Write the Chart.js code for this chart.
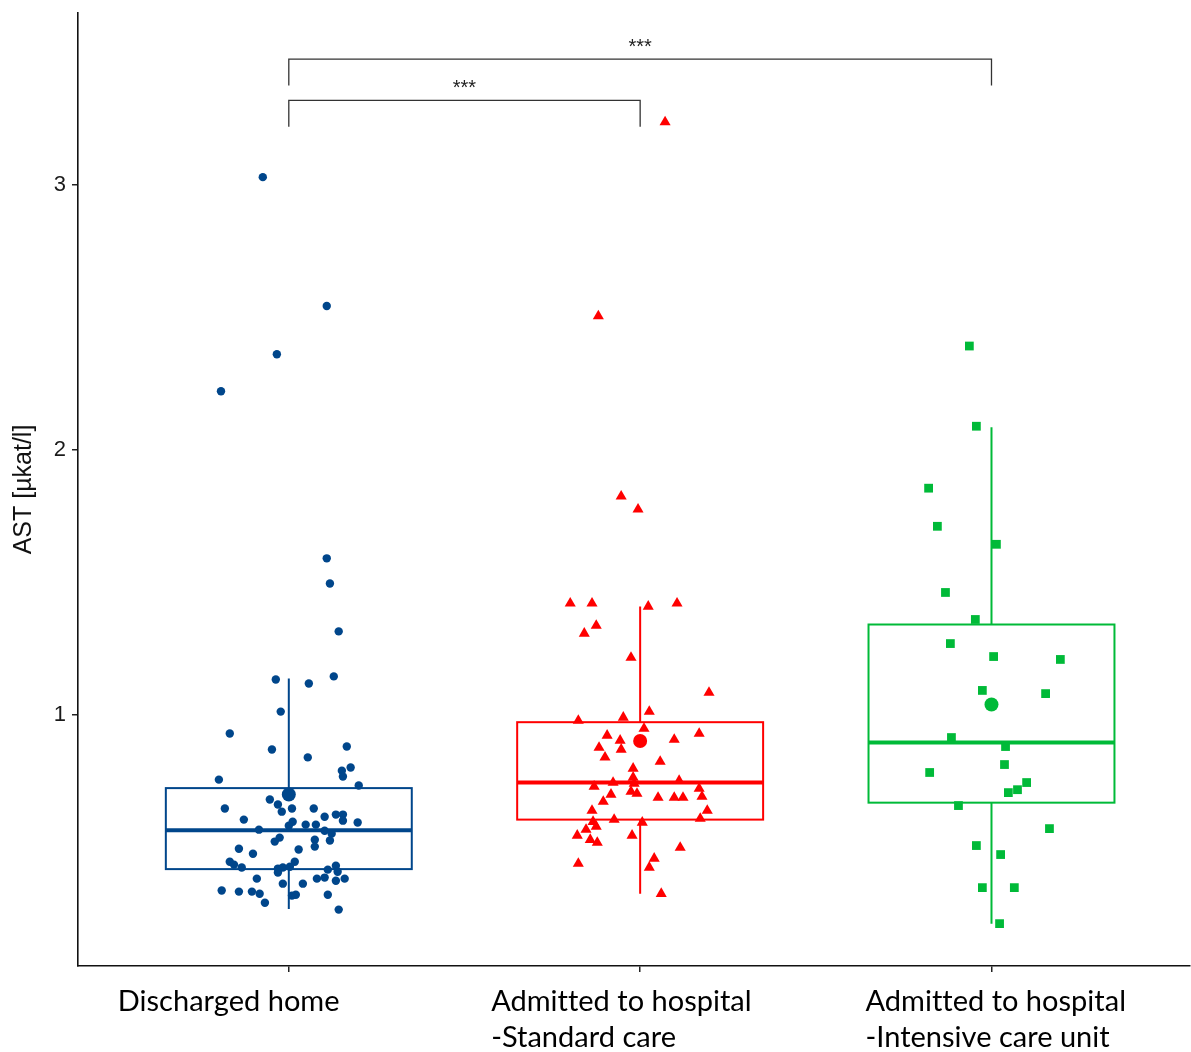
<!DOCTYPE html>
<html>
<head>
<meta charset="utf-8">
<script src="https://cdn.jsdelivr.net/npm/chart.js@4"></script>
<style>
  body { margin: 0; background: #fff; }
</style>
</head>
<body>
<canvas id="astChart" width="1191" height="1052"></canvas>
<script>
let groups = ['Discharged home', 'Admitted to hospital\n-Standard care', 'Admitted to hospital\n-Intensive care unit'];
let yTicks = [1, 2, 3];

// jittered x offsets (category units) and AST values per patient
let homeJitter = [-0.074, 0.108, -0.034, -0.193, 0.108, 0.117, 0.142, -0.037, 0.057, 0.128, -0.023, -0.168, -0.048, 0.054, 0.165, 0.151, 0.176, 0.154, -0.199, 0.199, -0.054, -0.031, -0.020, 0.009, 0.071, -0.182, -0.128, 0.102, 0.134, 0.154, 0.154, 0.196, 0.011, 0.000, 0.048, 0.077, -0.085, 0.102, 0.122, -0.026, -0.040, 0.074, 0.117, 0.074, -0.142, 0.028, -0.102, -0.168, -0.156, -0.134, 0.017, -0.031, -0.017, 0.003, -0.031, 0.111, 0.134, 0.139, -0.091, 0.080, 0.102, 0.134, 0.159, -0.017, 0.040, -0.191, -0.142, -0.105, -0.083, -0.068, 0.009, 0.020, 0.111, 0.142];
let homeAST = [3.030, 2.543, 2.361, 2.221, 1.590, 1.495, 1.314, 1.132, 1.117, 1.144, 1.011, 0.928, 0.868, 0.838, 0.879, 0.788, 0.800, 0.766, 0.754, 0.732, 0.679, 0.660, 0.633, 0.645, 0.645, 0.645, 0.603, 0.614, 0.622, 0.622, 0.599, 0.592, 0.595, 0.580, 0.584, 0.584, 0.565, 0.561, 0.550, 0.535, 0.520, 0.527, 0.524, 0.501, 0.493, 0.490, 0.474, 0.444, 0.433, 0.422, 0.444, 0.418, 0.422, 0.425, 0.403, 0.414, 0.429, 0.406, 0.380, 0.380, 0.384, 0.372, 0.380, 0.361, 0.361, 0.335, 0.331, 0.331, 0.323, 0.289, 0.316, 0.319, 0.319, 0.263];

let standardJitter = [0.071, -0.119, -0.054, -0.006, -0.199, -0.137, 0.023, 0.105, -0.125, -0.159, -0.026, 0.196, 0.026, -0.176, -0.048, 0.011, -0.094, -0.057, 0.168, 0.097, -0.117, -0.054, -0.100, 0.057, -0.020, -0.020, -0.077, -0.131, 0.111, -0.017, -0.009, -0.026, -0.083, 0.051, 0.097, 0.122, 0.168, 0.176, -0.105, -0.137, 0.191, 0.171, -0.074, -0.134, -0.125, 0.006, -0.154, -0.179, -0.142, -0.122, -0.023, 0.114, 0.040, 0.026, -0.176, 0.060];
let standardAST = [3.238, 2.505, 1.824, 1.775, 1.420, 1.420, 1.408, 1.420, 1.336, 1.306, 1.215, 1.083, 1.011, 0.977, 0.989, 0.947, 0.921, 0.902, 0.928, 0.905, 0.875, 0.868, 0.838, 0.822, 0.796, 0.762, 0.743, 0.728, 0.750, 0.739, 0.701, 0.709, 0.698, 0.686, 0.686, 0.686, 0.720, 0.690, 0.671, 0.637, 0.637, 0.607, 0.603, 0.595, 0.577, 0.592, 0.565, 0.543, 0.527, 0.516, 0.543, 0.497, 0.456, 0.422, 0.437, 0.323];

let icuJitter = [-0.063, -0.043, -0.179, -0.154, 0.014, -0.131, -0.046, -0.117, 0.006, 0.196, -0.026, 0.154, -0.114, 0.040, 0.037, -0.176, 0.100, 0.074, 0.048, -0.094, 0.165, -0.043, 0.026, -0.026, 0.065, 0.023];
let icuAST = [2.392, 2.089, 1.855, 1.711, 1.643, 1.461, 1.359, 1.268, 1.219, 1.208, 1.091, 1.079, 0.913, 0.879, 0.811, 0.781, 0.743, 0.716, 0.705, 0.656, 0.569, 0.505, 0.471, 0.346, 0.346, 0.210];

// box plot summaries
let whiskerLow = [0.265, 0.323, 0.210];
let q1 = [0.416, 0.603, 0.667];
let median = [0.563, 0.743, 0.894];
let q3 = [0.722, 0.971, 1.340];
let whiskerHigh = [1.136, 1.408, 2.085];
let means = [0.698, 0.900, 1.038];

let comparisons = [
  { from: 1, to: 2, y: 3.32, label: '***' },
  { from: 1, to: 3, y: 3.476, label: '***' },
];

let colors = ['#00468B', '#FF0000', '#00BA38'];
let pointStyles = ['circle', 'triangle', 'rect'];
let pointRadius = [4.2, 6.4, 6.2];
let labelShift = [-171, -149, -126];

let toPoints = (group, jitter, values) =>
  values.map((v, i) => ({ x: group + jitter[i], y: v }));

let boxPlugin = {
  id: 'boxes',
  beforeDatasetsDraw: (chart) => {
    let ctx = chart.ctx;
    let xs = chart.scales.x;
    let ys = chart.scales.y;
    let half = 0.35;
    ctx.save();
    groups.forEach((g, i) => {
      let c = i + 1;
      let left = xs.getPixelForValue(c - half);
      let right = xs.getPixelForValue(c + half);
      let mid = xs.getPixelForValue(c);
      ctx.strokeStyle = colors[i];
      ctx.lineWidth = 2;
      ctx.beginPath();
      ctx.moveTo(mid, ys.getPixelForValue(q3[i]));
      ctx.lineTo(mid, ys.getPixelForValue(whiskerHigh[i]));
      ctx.moveTo(mid, ys.getPixelForValue(q1[i]));
      ctx.lineTo(mid, ys.getPixelForValue(whiskerLow[i]));
      ctx.stroke();
      let top = ys.getPixelForValue(q3[i]);
      let bottom = ys.getPixelForValue(q1[i]);
      ctx.strokeRect(left, top, right - left, bottom - top);
      ctx.lineWidth = 4;
      ctx.beginPath();
      ctx.moveTo(left, ys.getPixelForValue(median[i]));
      ctx.lineTo(right, ys.getPixelForValue(median[i]));
      ctx.stroke();
    });
    ctx.restore();
  },
  afterDatasetsDraw: (chart) => {
    let ctx = chart.ctx;
    let xs = chart.scales.x;
    let ys = chart.scales.y;
    ctx.save();
    ctx.strokeStyle = '#333';
    ctx.lineWidth = 1.3;
    ctx.fillStyle = '#222';
    ctx.font = '20px "Liberation Sans", Arial, sans-serif';
    ctx.textAlign = 'center';
    ctx.textBaseline = 'alphabetic';
    comparisons.forEach((cmp) => {
      let x1 = xs.getPixelForValue(cmp.from);
      let x2 = xs.getPixelForValue(cmp.to);
      let y = ys.getPixelForValue(cmp.y);
      let drop = ys.getPixelForValue(cmp.y - 0.1);
      ctx.beginPath();
      ctx.moveTo(x1, drop);
      ctx.lineTo(x1, y);
      ctx.lineTo(x2, y);
      ctx.lineTo(x2, drop);
      ctx.stroke();
      ctx.fillText(cmp.label, (x1 + x2) / 2, y - 6.5);
    });
    ctx.restore();
  },
  afterDraw: (chart) => {
    let ctx = chart.ctx;
    let xs = chart.scales.x;
    ctx.save();
    ctx.fillStyle = '#000';
    ctx.font = '29px Lato, "Noto Sans", sans-serif';
    ctx.letterSpacing = '0.01px';
    ctx.textAlign = 'left';
    ctx.textBaseline = 'middle';
    groups.forEach((g, i) => {
      let x = xs.getPixelForValue(i + 1) + labelShift[i];
      g.split('\n').forEach((line, j) => {
        ctx.fillText(line, x, xs.top + 36 + j * 36);
      });
    });
    ctx.restore();
  },
};

let datasets = [];
groups.forEach((g, i) => {
  datasets.push({
    label: g + ' mean',
    data: [{ x: i + 1, y: means[i] }],
    pointStyle: 'circle',
    pointRadius: 7,
    backgroundColor: colors[i],
    borderWidth: 0,
    order: 0,
  });
});
datasets.push({
  label: groups[0],
  data: toPoints(1, homeJitter, homeAST),
  pointStyle: pointStyles[0],
  pointRadius: pointRadius[0],
  backgroundColor: colors[0],
  borderWidth: 0,
  order: 1,
});
datasets.push({
  label: groups[1],
  data: toPoints(2, standardJitter, standardAST),
  pointStyle: pointStyles[1],
  pointRadius: pointRadius[1],
  backgroundColor: colors[1],
  borderWidth: 0,
  order: 1,
});
datasets.push({
  label: groups[2],
  data: toPoints(3, icuJitter, icuAST),
  pointStyle: pointStyles[2],
  pointRadius: pointRadius[2],
  backgroundColor: colors[2],
  borderWidth: 0,
  order: 1,
});

let ctx = document.getElementById('astChart').getContext('2d');
new Chart(ctx, {
  type: 'scatter',
  data: { datasets: datasets },
  plugins: [boxPlugin],
  options: {
    responsive: false,
    animation: false,
    devicePixelRatio: 1,
    layout: { autoPadding: false, padding: { top: 13, right: 1, left: 0, bottom: 0 } },
    plugins: {
      legend: { display: false },
      tooltip: { enabled: false },
    },
    scales: {
      x: {
        type: 'linear',
        min: 0.4,
        max: 3.565,
        afterBuildTicks: (scale) => {
          scale.ticks = groups.map((g, i) => ({ value: i + 1 }));
        },
        afterFit: (scale) => {
          scale.height = 86;
        },
        ticks: { display: false },
        grid: {
          drawOnChartArea: false,
          drawTicks: true,
          tickLength: 6,
          color: '#222',
          lineWidth: 1.5,
        },
        border: { color: '#111', width: 1.6 },
      },
      y: {
        type: 'linear',
        min: 0.05,
        max: 3.65,
        afterBuildTicks: (scale) => {
          scale.ticks = yTicks.map((v) => ({ value: v }));
        },
        afterFit: (scale) => {
          scale.width = 78;
        },
        ticks: {
          color: '#1a1a1a',
          padding: 6,
          font: { family: '"Liberation Sans", Arial, sans-serif', size: 22, lineHeight: 0.6 },
        },
        grid: {
          drawOnChartArea: false,
          drawTicks: true,
          tickLength: 6,
          color: '#222',
          lineWidth: 1.5,
        },
        border: { color: '#111', width: 1.6 },
        title: {
          display: true,
          text: 'AST [µkat/l]',
          color: '#111',
          padding: { top: 9, bottom: 0 },
          font: { family: '"Liberation Sans", Arial, sans-serif', size: 25 },
        },
      },
    },
  },
});
</script>
</body>
</html>
